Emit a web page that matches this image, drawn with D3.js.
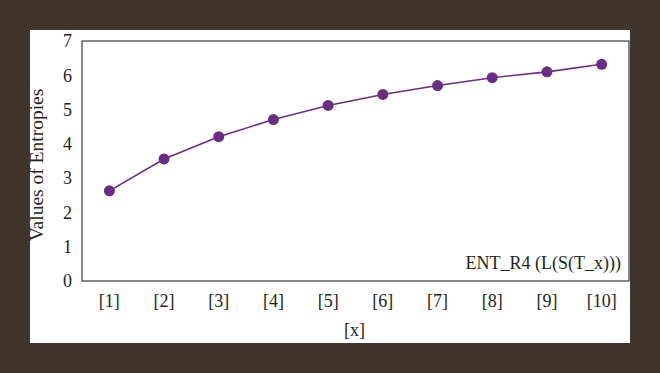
<!DOCTYPE html>
<html>
<head>
<meta charset="utf-8">
<script src="https://cdn.jsdelivr.net/npm/d3@7"></script>
<style>
  body { margin: 0; background: #41342a; }
  svg { display: block; }
  text { font-family: "Liberation Serif", "DejaVu Serif", serif; fill: #231f20; }
</style>
</head>
<body>
<svg id="chart" width="660" height="373"></svg>
<script>
// ------------------------------------
// Data
// ------------------------------------
const categories = ["[1]", "[2]", "[3]", "[4]", "[5]", "[6]", "[7]", "[8]", "[9]", "[10]"];
const entropies = [2.63, 3.56, 4.21, 4.71, 5.12, 5.44, 5.70, 5.93, 6.10, 6.32];
const yTicks = [0, 1, 2, 3, 4, 5, 6, 7];
const seriesName = "ENT_R4 (L(S(T_x)))";

const svg = d3.select("#chart");

// white panel
svg.append("rect")
  .attr("x", 30).attr("y", 30)
  .attr("width", 600).attr("height", 313)
  .attr("fill", "#fff");

const margin = { top: 41, right: 31, bottom: 92, left: 82 };
const width = 660, height = 373;
const innerWidth = width - margin.left - margin.right;
const innerHeight = height - margin.top - margin.bottom;

const g = svg.append("g")
  .attr("transform", `translate(${margin.left},${margin.top})`);

const x = d3.scaleBand()
  .domain(categories)
  .range([0, innerWidth]);

const y = d3.scaleLinear()
  .domain([0, 7])
  .range([innerHeight, 0]);

// frame
g.append("rect")
  .attr("width", innerWidth)
  .attr("height", innerHeight)
  .attr("fill", "none")
  .attr("stroke", "#3a3a3a")
  .attr("stroke-width", 1.2);

// axes
const xAxis = g.append("g")
  .attr("transform", `translate(0,${innerHeight})`)
  .attr("font-family", null).attr("font-size", null)
  .call(d3.axisBottom(x).tickSize(0).tickPadding(13));
xAxis.select(".domain").remove();
xAxis.selectAll("text")
  .attr("dy", "0.71em")
  .style("font-family", "Liberation Serif")
  .style("font-size", "18px")
  .style("fill", "#231f20");

const yAxis = g.append("g")
  .call(d3.axisLeft(y).tickValues(yTicks).tickFormat(d3.format("d")).tickSize(0).tickPadding(10));
yAxis.select(".domain").remove();
yAxis.selectAll("text")
  .style("font-family", "Liberation Serif")
  .style("font-size", "18px")
  .style("fill", "#231f20");

// axis labels
g.append("text")
  .attr("x", innerWidth / 2 - 1)
  .attr("y", innerHeight + 55)
  .attr("text-anchor", "middle")
  .attr("font-size", 18)
  .text("[x]");

g.append("text")
  .attr("transform", "rotate(-90)")
  .attr("x", -124)
  .attr("y", -39)
  .attr("text-anchor", "middle")
  .attr("font-size", 19.5)
  .text("Values of Entropies");

// line + points
const line = d3.line()
  .x((d, i) => x(categories[i]) + x.bandwidth() / 2)
  .y(d => y(d));

g.append("path")
  .datum(entropies)
  .attr("fill", "none")
  .attr("stroke", "#6b2c84")
  .attr("stroke-width", 1.6)
  .attr("d", line);

g.selectAll(".pt")
  .data(entropies)
  .join("circle")
  .attr("class", "pt")
  .attr("cx", (d, i) => x(categories[i]) + x.bandwidth() / 2)
  .attr("cy", d => y(d))
  .attr("r", 5.5)
  .attr("fill", "#6b2c84");

// legend
g.append("text")
  .attr("x", innerWidth - 8)
  .attr("y", innerHeight - 12)
  .attr("text-anchor", "end")
  .attr("font-size", 18)
  .text(seriesName);
</script>
</body>
</html>
